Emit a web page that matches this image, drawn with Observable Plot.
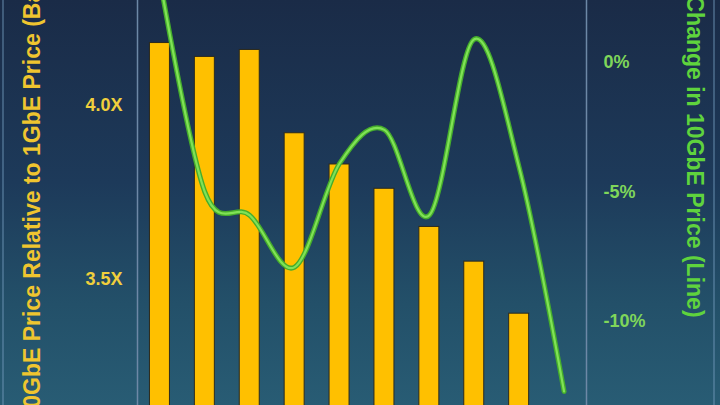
<!DOCTYPE html>
<html>
<head>
<meta charset="utf-8">
<script src="https://cdn.jsdelivr.net/npm/d3@7"></script>
<script src="https://cdn.jsdelivr.net/npm/@observablehq/plot@0.6"></script>
<style>
  html, body { margin: 0; padding: 0; background: #1c3350; }
  #wrap {
    position: relative; width: 720px; height: 405px; overflow: hidden;
    background: linear-gradient(to bottom, #1a2b47 0%, #1d3a5a 45%, #235069 75%, #285c74 100%);
    font-family: "Liberation Sans", Arial, sans-serif;
  }
  .edge { position: absolute; top: 0; width: 2px; height: 405px; background: rgba(110,150,185,0.45); }
  #wrap svg { position: absolute; left: 0; top: 0; }
</style>
</head>
<body>
<div id="wrap"><div class="edge" style="left:2px"></div><div class="edge" style="left:713px"></div></div>
<script>
// Categories (periods); the line has one more point than the bars
const periods = ["1", "2", "3", "4", "5", "6", "7", "8", "9", "10"];
// 10GbE price relative to 1GbE price (bars, multiple of 1GbE)
const barValues = [4.18, 4.14, 4.16, 3.92, 3.83, 3.76, 3.65, 3.55, 3.40];
// Change in 10GbE price (line, %)
const linePct = [3.2, -5.0, -5.9, -7.9, -3.9, -2.6, -5.9, 0.9, -4.05, -12.7];
// Tick labels
const leftTicks = [3.5, 4.0];
const rightTicks = [0, -5, -10];
const leftLabel = "10GbE Price Relative to 1GbE Price (Bars)";
const rightLabel = "Change in 10GbE Price (Line)";

// secondary axis mapping: percent -> bar scale units
const toV = p => 4.12392 + 0.07464 * p;
const fromV = v => (v - 4.12392) / 0.07464;

const bars = barValues.map((v, i) => ({period: periods[i], value: v}));
const line = linePct.map((p, i) => ({period: periods[i], pct: p}));

const font = "'Liberation Sans', Arial, sans-serif";
const frameColor = "#6d88a6";

const chart = Plot.plot({
  width: 720,
  height: 405,
  marginLeft: 137,
  marginRight: 134,
  marginTop: 0,
  marginBottom: 0,
  style: {background: "transparent", fontFamily: font, overflow: "visible"},
  x: {type: "band", domain: periods, paddingInner: 0.555, paddingOuter: 0.2775, round: false, axis: null},
  y: {domain: [3.1354, 4.3026], axis: null},
  marks: [
    Plot.frame({anchor: "left", stroke: frameColor, strokeWidth: 1.5}),
    Plot.frame({anchor: "right", stroke: frameColor, strokeWidth: 1.5}),
    Plot.barY(bars, {x: "period", y: "value", fill: "#FFC000", stroke: "#2b2a1e", strokeWidth: 1, clip: true}),
    Plot.lineY(line, {x: "period", y: d => toV(d.pct), curve: "cardinal", stroke: "#45ad2c", strokeWidth: 5, clip: true}),
    Plot.lineY(line, {x: "period", y: d => toV(d.pct), curve: "cardinal", stroke: "#80e256", strokeWidth: 2.2, clip: true}),
    Plot.axisY({anchor: "left", ticks: leftTicks, tickFormat: d => d.toFixed(1) + "X", tickSize: 0, tickPadding: 15,
      fontSize: 18, fontWeight: "bold", color: "#f0cf3c", label: null}),
    Plot.axisY({anchor: "right", ticks: rightTicks.map(toV), tickFormat: v => Math.round(fromV(v)) + "%", tickSize: 0, tickPadding: 17,
      fontSize: 18, fontWeight: "bold", color: "#7fd65a", label: null}),
    Plot.text([leftLabel], {text: d => d, frameAnchor: "left", rotate: -90, textAnchor: "middle", lineAnchor: "bottom",
      dx: -98, dy: -12.5, fontSize: 23, fontWeight: "bold", fill: "#efc52f"}),
    Plot.text([rightLabel], {text: d => d, frameAnchor: "right", rotate: 90, textAnchor: "middle", lineAnchor: "bottom",
      dx: 100.5, dy: -46.5, fontSize: 23, fontWeight: "bold", fill: "#5fd33d"})
  ]
});
document.getElementById("wrap").appendChild(chart);
</script>
</body>
</html>
